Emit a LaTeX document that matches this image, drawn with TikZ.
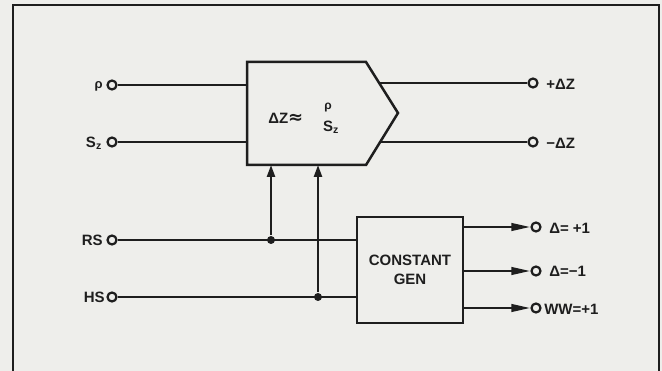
\documentclass[tikz,border=0pt]{standalone}
\usepackage{fontspec}
\setmainfont{Liberation Sans}
\newfontfamily\symfont{DejaVu Sans}
\usetikzlibrary{arrows.meta}
\definecolor{paper}{RGB}{238,238,235}
\definecolor{ink}{RGB}{30,30,30}
\begin{document}
\begin{tikzpicture}[x=1pt,y=-1pt,line width=2.5pt,draw=ink,
  term/.style={circle,draw=ink,fill=paper,line width=2.2pt,minimum size=9pt,inner sep=0pt},
  lbl/.style={font=\bfseries\fontsize{15}{17}\selectfont,text=ink,inner sep=0pt},
  dotj/.style={circle,fill=ink,inner sep=0pt,minimum size=8pt},
  uparrow/.style={-{Triangle[length=12pt,width=8pt]}},
  outarrow/.style={-{Triangle[length=19pt,width=7.5pt]}}]
\fill[paper] (0,0) rectangle (662,371);
\useasboundingbox (0,0) rectangle (662,371);
% frame
\draw[line width=1.6pt] (13,371) -- (13,5) -- (659,5) -- (659,371);
% main block
\coordinate (bNW) at (247,62);
\coordinate (bNE) at (366,62);
\coordinate (bTip) at (398,113);
\coordinate (bSE) at (366,165);
\coordinate (bSW) at (247,165);
\draw[line join=miter] (bNW) -- (bNE) -- (bTip) -- (bSE) -- (bSW) -- cycle;
\node[lbl,anchor=west] (frm) at (267,118) {ΔZ{\symfont\bfseries\fontsize{18}{18}\selectfont≈}};
\node[lbl,font=\bfseries\fontsize{12}{14}\selectfont] (rho) at (328,108) {ρ};
\node[lbl] (sz) at (331,127) {S\textsubscript{z}};
% inputs
\node[term] (tp) at (112,85) {};
\node[term] (ts) at (112,142) {};
\node[term] (trs) at (112,240) {};
\node[term] (ths) at (112,297) {};
\node[lbl,anchor=east,font=\bfseries\fontsize{13}{15}\selectfont] (lp) at (104,86) {ρ};
\node[lbl,anchor=east] (ls) at (103,143) {S\textsubscript{z}};
\node[lbl,anchor=east] (lrs) at (104,240) {RS};
\node[lbl,anchor=east] (lhs) at (106,297) {HS};
% constant gen
\node[draw=ink,line width=2.5pt,minimum width=106pt,minimum height=106pt,inner sep=0pt,
      align=center,font=\bfseries\fontsize{15}{19}\selectfont,text=ink] (gen) at (410,270) {CONSTANT\\GEN};
% connectors inputs
\draw (tp) -- (tp -| bNW);
\draw (ts) -- (ts -| bNW);
\draw (trs) -- (trs -| gen.west);
\draw (ths) -- (ths -| gen.west);
\node[dotj] (jr) at (271,240) {};
\node[dotj] (jh) at (318,297) {};
\draw[uparrow] (jr) -- (jr |- bSW);
\draw[uparrow] (jh) -- (jh |- bSW);
% outputs of main block
\coordinate (oP) at (379,83);
\coordinate (oM) at (380,142);
\node[term] (tzp) at (533,83) {};
\node[term] (tzm) at (533,142) {};
\draw (oP) -- (tzp);
\draw (oM) -- (tzm);
\node[lbl,anchor=west] (lzp) at (545,84) {+ΔZ};
\node[lbl,anchor=west] (lzm) at (545,143) {−ΔZ};
% outputs of constant gen
\node[term] (tg1) at (536,227) {};
\node[term] (tg2) at (536,271) {};
\node[term] (tg3) at (536,308) {};
\draw[outarrow] (tg1 -| gen.east) -- (tg1.west);
\draw[outarrow] (tg2 -| gen.east) -- (tg2.west);
\draw[outarrow] (tg3 -| gen.east) -- (tg3.west);
\node[lbl,anchor=west] (lg1) at (548,228) {Δ= +1};
\node[lbl,anchor=west] (lg2) at (548,271) {Δ=−1};
\node[lbl,anchor=west] (lg3) at (543,309) {WW=+1};
\end{tikzpicture}
\end{document}
